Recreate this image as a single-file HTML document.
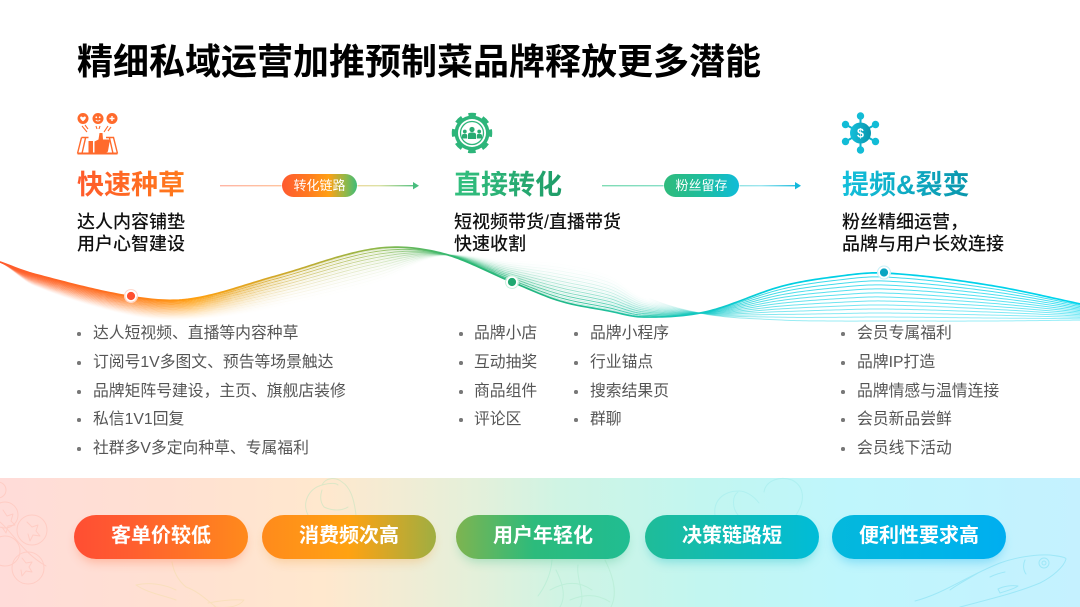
<!DOCTYPE html>
<html lang="zh"><head><meta charset="utf-8"><style>
html,body{margin:0;padding:0;background:#fff}
#p{position:relative;width:1080px;height:607px;overflow:hidden;background:#fff;font-family:"Liberation Sans","Noto Sans CJK SC",sans-serif;color:#111}
#p div{position:absolute;white-space:nowrap}
.t{left:77px;top:37px;font-size:36px;line-height:50px;font-weight:700;color:#000}
.h{font-size:27px;line-height:38px;top:166px;font-weight:700;-webkit-background-clip:text;background-clip:text;color:transparent}
.s{font-size:18px;line-height:22px;font-weight:500;color:#111}
.l{font-size:15.8px;line-height:22px;color:#555;margin-top:1px}
.b{width:3.5px;height:3.5px;border-radius:50%;background:#777}
.c{top:174px;width:75px;height:23px;border-radius:12px;color:#fff;font-size:13px;line-height:23px;text-align:center;box-shadow:0 0 0 1px rgba(255,255,255,.5)}
.g{top:515px;width:174px;height:44px;border-radius:22px;color:#fff;font-size:20px;line-height:42px;font-weight:700;text-align:center}
svg{position:absolute;left:0;top:0}
</style></head><body><div id="p">
<div style="left:0;top:478px;width:1080px;height:129px;background:linear-gradient(90deg,#ffdcd9 0%,#ffe0d2 15%,#ffe8ce 30%,#e4f0da 44%,#cff4e4 52%,#c2f6f0 65%,#bff6fc 78%,#c5f1ff 100%)"></div>

<svg width="1080" height="607" fill="none" stroke-linecap="round" stroke-linejoin="round">
<g stroke="#ffc6bc" stroke-width="1" opacity=".7"><circle cx="5" cy="515" r="13"/><circle cx="32" cy="530" r="15"/><circle cx="5" cy="551" r="15"/><circle cx="28" cy="568" r="16"/><circle cx="-2" cy="490" r="8"/><path d="M0 522c14 12 22 30 46 44M3 510l4 6 6-2-2 7 4 4-7 1-2 7-4-6M27 522l5 5 6-2-2 6 4 5-7-1-3 6-2-7M22 558l4 5 6-1-3 5 3 5-6-1-4 5-1-6"/></g>
<g stroke="#f7dfb8" stroke-width="1" opacity=".8"><path d="M172 562c2 12 8 20 14 25 12 4 22 14 30 20M176 590c-12-6-28-8-40-5 12 8 26 10 40 15M208 603c10-2 25-4 36-3-6 8-20 8-30 7"/></g>
<g stroke="#d3e6c4" stroke-width="1" opacity=".8"><path d="M308 515c-6-12 0-26 14-30 8-2 14-2 16 0M322 485c4-8 14-8 20-3 8 5 12 16 14 33M322 490c-2 6-2 12 2 17 8 4 18 4 24 0"/></g>
<g stroke="#b6ecd4" stroke-width="1" opacity=".7"><path d="M552 560c-1 15-8 28-14 36M556 570c10 20 8 30 4 37M578 565c-2 14 8 30 2 42M605 560c10 20 12 35 6 47M550 590c14-8 28-10 42 0M570 600c14-6 28-6 40 2"/></g>
<g stroke="#a8eeee" stroke-width="1" opacity=".7"><path d="M715 515c-2-14 8-24 24-24 6 0 14 4 20 12M764 492c2-12 16-16 28-12 12 6 14 20 4 35M738 492c-6 4-6 16 0 23"/></g>
<g stroke="#98e6f6" stroke-width="1" opacity=".85"><path d="M915 601c30-8 50-24 85-38 14-5 34-9 50-8 8 1 16 2 16 4-2 8-14 18-26 24-24 10-50 16-80 24M1026 574c-3-4-3-10-1-14"/><circle cx="1044" cy="563" r="5"/><circle cx="1044" cy="563" r="2"/><path d="M1000 593c6-2 14-4 18-7-6-1-14 0-20 3zM990 577c6-3 10-4 15-5M950 590c8-6 20-12 28-17"/></g>
</svg>

<svg id="w" width="1080" height="607"></svg>

<svg width="1080" height="607">
<defs>
<linearGradient id="l1" gradientUnits="userSpaceOnUse" x1="220" x2="419" y1="0" y2="0"><stop offset="0" stop-color="#ffb5a5"/><stop offset=".55" stop-color="#ffd09a"/><stop offset=".8" stop-color="#dce2a5"/><stop offset="1" stop-color="#48bd7e"/></linearGradient>
<linearGradient id="l2" gradientUnits="userSpaceOnUse" x1="602" x2="801" y1="0" y2="0"><stop offset="0" stop-color="#7fdcb4"/><stop offset=".6" stop-color="#8fe0d8"/><stop offset=".8" stop-color="#9ee6f0"/><stop offset="1" stop-color="#12b8dc"/></linearGradient>
<linearGradient id="i3" x1="0" x2="1"><stop offset="0" stop-color="#14c0dc"/><stop offset="1" stop-color="#0895ac"/></linearGradient>
</defs>
<rect x="220" y="185" width="195" height="1.4" fill="url(#l1)"/><path d="M413 182l6 3.7-6 3.7z" fill="#48bd7e"/>
<rect x="602" y="185" width="195" height="1.4" fill="url(#l2)"/><path d="M795 182l6 3.7-6 3.7z" fill="#12b8dc"/>

<!-- icon 1 -->
<g fill="#ff6a2c"><circle cx="83" cy="118.500" r="5.500"/><circle cx="98" cy="118.500" r="5.500"/><circle cx="112" cy="118.500" r="5.500"/></g>
<path d="M80.300 117c.8-1 2.200-.4 2.700.6.500-1 1.900-1.600 2.700-.6.800 1.300-1.500 3.500-2.700 4.300-1.200-.8-3.500-3-2.700-4.300zM109.500 117.800h5v1.400h-5zM111.300 116h1.400v5h-1.400z" fill="#fff"/>
<circle cx="96.300" cy="117.300" r=".9" fill="#fff"/><circle cx="99.700" cy="117.300" r=".9" fill="#fff"/><path d="M95.800 120c1 1.400 3.400 1.400 4.400 0" stroke="#fff" fill="none" stroke-width=".9"/>
<path d="M82 126l5 6M85 125l3 4M96 126l1 3M100 126l-1 3M108 126l-4 6M111 127l-3 4" stroke="#ff6a2c" fill="none" stroke-width="1.100"/>
<path d="M81.500 137.500h7M106 137.500h7.500l4 16M81.500 137.500l-4 16M85.500 138l-3.500 15.500M109.500 138l3.500 15.500" fill="none" stroke="#ff6a2c" stroke-width="1.400"/>
<path d="M77.500 152.500h40v2h-40z" fill="#ff6a2c"/>
<path d="M88.500 141h4.500v11.500h-4.500zM94.500 141.500l4-2 1-6.500h3l.5 6.500h5.500c1.500 0 1.500 1.500 1 3l-1.500 8.500c-.2 1-1 1.500-2 1.500H94.500z" fill="#ff6a2c"/>

<!-- icon 2 -->
<circle cx="472" cy="133" r="17.500" fill="#2db57a"/>
<circle cx="472" cy="133" r="18.500" fill="none" stroke="#2db57a" stroke-width="3.500" stroke-dasharray="7.500 7.030" stroke-dashoffset="3.700"/>
<circle cx="472" cy="133" r="14" fill="#fff"/>
<circle cx="472" cy="133" r="11.500" fill="none" stroke="#2db57a" stroke-width="1.300"/>
<g fill="#28ab72"><circle cx="472" cy="129.500" r="2.600"/><path d="M468 139v-4.500c0-1.500 1.500-2 4-2s4 .5 4 2v4.500z"/><circle cx="464.800" cy="131.500" r="1.900"/><path d="M462 138.500v-3c0-1.300 1.300-1.800 2.800-1.800s2.400.5 2.400 1.800v3z"/><circle cx="479.200" cy="131.500" r="1.900"/><path d="M476.800 138.500v-3c0-1.300 1-1.800 2.400-1.800s2.800.5 2.800 1.800v3z"/></g>

<!-- icon 3 -->
<path d="M860.500 133V114M860.500 133V152M860.500 133L844 123.500M860.500 133L877 123.500M860.500 133L844 142.500M860.500 133L877 142.500" stroke="#0fb2cd" stroke-width="2"/>
<g fill="#12bcd6"><circle cx="860.500" cy="116" r="3.700"/><circle cx="860.500" cy="150" r="3.700"/><circle cx="845.500" cy="124.500" r="3.700"/><circle cx="875.500" cy="124.500" r="3.700"/><circle cx="845.500" cy="141.500" r="3.700"/><circle cx="875.500" cy="141.500" r="3.700"/></g>
<circle cx="860.500" cy="133" r="10.500" fill="url(#i3)"/>
<text x="860.500" y="137.500" text-anchor="middle" fill="#fff" font-family="Liberation Sans" font-weight="700" font-size="12.500">$</text>

<g stroke="#fff" stroke-width="1.800"><circle cx="131" cy="296" r="5" fill="#ff5030"/><circle cx="512" cy="282" r="5" fill="#1fa870"/><circle cx="884" cy="272.500" r="5" fill="#0aa5c2"/></g>
<circle cx="131" cy="296" r="6.500" fill="none" stroke="#ffd8cc" stroke-width="1"/><circle cx="512" cy="282" r="6.500" fill="none" stroke="#c8efdc" stroke-width="1"/><circle cx="884" cy="272.500" r="6.500" fill="none" stroke="#c8f0f8" stroke-width="1"/>
</svg>

<div class="t">精细私域运营加推预制菜品牌释放更多潜能</div>

<div class="h" style="left:77px;background-image:linear-gradient(90deg,#ff5a2c,#ff7a1a)">快速种草</div>
<div class="h" style="left:454px;background-image:linear-gradient(90deg,#33c07f,#1f9c68)">直接转化</div>
<div class="h" style="left:842px;background-image:linear-gradient(90deg,#14c0dc,#0a96ac)">提频&amp;裂变</div>

<div class="s" style="left:77px;top:211px">达人内容铺垫</div><div class="s" style="left:77px;top:233px">用户心智建设</div>
<div class="s" style="left:454px;top:211px">短视频带货/直播带货</div><div class="s" style="left:454px;top:233px">快速收割</div>
<div class="s" style="left:842px;top:211px">粉丝精细运营，</div><div class="s" style="left:842px;top:233px">品牌与用户长效连接</div>

<div class="c" style="left:282px;background:linear-gradient(90deg,#ff5a30 0%,#ff7a20 35%,#ffa015 62%,#8fb84a 85%,#3fbb78 100%)">转化链路</div>
<div class="c" style="left:664px;background:linear-gradient(90deg,#2fbb7c 0%,#1fbd9c 50%,#10bcd8 100%)">粉丝留存</div>

<div class="b" style="left:77px;top:332px"></div><div class="l" style="left:93px;top:322px">达人短视频、直播等内容种草</div>
<div class="b" style="left:77px;top:361px"></div><div class="l" style="left:93px;top:351px">订阅号1V多图文、预告等场景触达</div>
<div class="b" style="left:77px;top:390px"></div><div class="l" style="left:93px;top:380px">品牌矩阵号建设，主页、旗舰店装修</div>
<div class="b" style="left:77px;top:418px"></div><div class="l" style="left:93px;top:408px">私信1V1回复</div>
<div class="b" style="left:77px;top:447px"></div><div class="l" style="left:93px;top:437px">社群多V多定向种草、专属福利</div>

<div class="b" style="left:459px;top:332px"></div><div class="l" style="left:474px;top:322px">品牌小店</div>
<div class="b" style="left:459px;top:361px"></div><div class="l" style="left:474px;top:351px">互动抽奖</div>
<div class="b" style="left:459px;top:390px"></div><div class="l" style="left:474px;top:380px">商品组件</div>
<div class="b" style="left:459px;top:418px"></div><div class="l" style="left:474px;top:408px">评论区</div>

<div class="b" style="left:574px;top:332px"></div><div class="l" style="left:590px;top:322px">品牌小程序</div>
<div class="b" style="left:574px;top:361px"></div><div class="l" style="left:590px;top:351px">行业锚点</div>
<div class="b" style="left:574px;top:390px"></div><div class="l" style="left:590px;top:380px">搜索结果页</div>
<div class="b" style="left:574px;top:418px"></div><div class="l" style="left:590px;top:408px">群聊</div>

<div class="b" style="left:841px;top:332px"></div><div class="l" style="left:857px;top:322px">会员专属福利</div>
<div class="b" style="left:841px;top:361px"></div><div class="l" style="left:857px;top:351px">品牌IP打造</div>
<div class="b" style="left:841px;top:390px"></div><div class="l" style="left:857px;top:380px">品牌情感与温情连接</div>
<div class="b" style="left:841px;top:418px"></div><div class="l" style="left:857px;top:408px">会员新品尝鲜</div>
<div class="b" style="left:841px;top:447px"></div><div class="l" style="left:857px;top:437px">会员线下活动</div>

<div class="g" style="left:74px;background:linear-gradient(90deg,#ff4e33 0%,#ff5c30 30%,#ff8a1c 100%);box-shadow:0 6px 10px -3px rgba(255,100,50,.35)">客单价较低</div>
<div class="g" style="left:262px;background:linear-gradient(90deg,#ff8a1c 0%,#ffa212 50%,#9fae42 100%);box-shadow:0 6px 10px -3px rgba(240,150,40,.3)">消费频次高</div>
<div class="g" style="left:456px;background:linear-gradient(90deg,#7eb450 0%,#2cbb7c 45%,#20bd92 100%);box-shadow:0 6px 10px -3px rgba(40,180,120,.3)">用户年轻化</div>
<div class="g" style="left:645px;background:linear-gradient(90deg,#1fbc98 0%,#10bcb8 50%,#00bcd8 100%);box-shadow:0 6px 10px -3px rgba(0,180,190,.35)">决策链路短</div>
<div class="g" style="left:832px;background:linear-gradient(90deg,#04b8dc 0%,#00b4e8 60%,#00aef0 100%);box-shadow:0 6px 10px -3px rgba(0,170,235,.35)">便利性要求高</div>

<script>
(function(){
var xs=[-40,0,34,131,190,276,376,441,512,560,609,643,705,781,833,884,988,1090];
var M=[248,262,274,296.500,299,276,248.500,253,282,301,311,317,312,286.500,277,273,285,306];
var S=[250,262,286,316,320,309,285,256,259,261,273,296,314,320,321,321,321,320];
function h(a,x){for(var i=0;i<xs.length-2&&x>xs[i+1];i++);var i0=Math.max(i-1,0),i2=i+1,i3=Math.min(i+2,xs.length-1);
var d=xs[i2]-xs[i],u=(x-xs[i])/d,m1=(a[i2]-a[i0])/(xs[i2]-xs[i0])*d,m2=(a[i3]-a[i])/(xs[i3]-xs[i])*d;
var u2=u*u,u3=u2*u;return (2*u3-3*u2+1)*a[i]+(u3-2*u2+u)*m1+(-2*u3+3*u2)*a[i2]+(u3-u2)*m2;}
var cols=[[0,"#ff5a2c"],[.1,"#ff7020"],[.18,"#ffa010"],[.27,"#c9a92c"],[.35,"#8fb84a"],[.42,"#2fb872"],[.48,"#22b47c"],[.6,"#1fc4a8"],[.66,"#10c8c8"],[.72,"#00cfe0"],[.82,"#00cfe8"],[1,"#00d4ec"]];
var ns="http://www.w3.org/2000/svg",svg=document.getElementById("w"),defs=document.createElementNS(ns,"defs");svg.appendChild(defs);
var N=25;
for(var k=N-1;k>=0;k--){var t=k/(N-1),odd=k%2==1,g=document.createElementNS(ns,"linearGradient");g.id="w"+k;g.setAttribute("gradientUnits","userSpaceOnUse");g.setAttribute("x1",0);g.setAttribute("x2",1080);g.setAttribute("y1",0);g.setAttribute("y2",0);
cols.forEach(function(c){var s=document.createElementNS(ns,"stop"),o=c[0];s.setAttribute("offset",o);s.setAttribute("stop-color",c[1]);
var left=Math.pow(1-t,2)*(o>.22&&odd?.3:1),right=odd?0:(k==0?1:.8-.4*t),bl=Math.min(1,Math.max(0,(o-.6)/.06));
if(o<.2)left=Math.pow(1-t,1.3);
s.setAttribute("stop-opacity",left*(1-bl)+right*bl);g.appendChild(s);});defs.appendChild(g);
var d="";for(var x=-10;x<=1090;x+=3){var y=h(M,x)*(1-t)+h(S,x)*t;d+=(x==-10?"M":"L")+x+" "+y.toFixed(2);}
var p=document.createElementNS(ns,"path");p.setAttribute("d",d);p.setAttribute("fill","none");p.setAttribute("stroke","url(#w"+k+")");p.setAttribute("stroke-width",k==0?1.7:1);svg.appendChild(p);}
})();
</script>
</div></body></html>
